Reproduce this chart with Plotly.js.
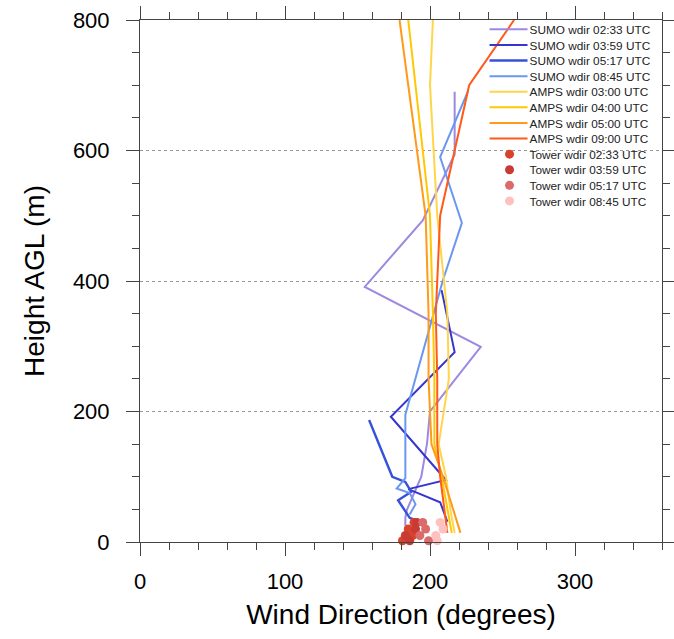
<!DOCTYPE html>
<html><head><meta charset="utf-8">
<script src="https://cdn.plot.ly/plotly-3.0.1.min.js"></script>
<style>body{margin:0;background:#fff}#chart{width:674px;height:639px}</style>
</head><body><div id="chart"></div>
<script>
// SUMO profiles (height m, wind direction deg)
const sumo0233_h = [690, 594, 493, 391, 299, 200, 152, 100, 49, 37, 25];
const sumo0233_d = [217, 217, 195, 155, 235, 200, 198, 194, 184, 183, 183];
const sumo0359_h = [386, 291, 192, 95, 81, 61, 31];
const sumo0359_d = [208, 217, 173, 211, 185, 207, 212];
const sumo0517_h = [187, 100, 92, 77, 64, 37, 31];
const sumo0517_d = [158, 174, 183, 187, 178, 186, 193];
const sumo0845_h = [690, 590, 489, 402, 195, 98, 82, 75, 58, 42];
const sumo0845_d = [226, 207, 222, 209, 183, 183, 177, 186, 190, 186];
// AMPS model profiles
const amps_h   = [14, 50, 100, 150, 250, 350, 500, 700, 800];
const amps0300 = [217, 214, 211, 206, 213, 212, 205, 200, 202];
const amps0400 = [215, 212, 208, 203, 203, 202, 200, 190, 185];
const amps0500 = [221, 216, 209, 201, 199, 199, 197, 185, 179];
const amps0900 = [212, 210, 207, 205, 205, 204, 207, 227, 258];
// Tower observations
const tower_h    = [2, 10, 20, 30];
const tower0233  = [181, 188, 185, 189];
const tower0359  = [186, 183, 190, 191];
const tower0517  = [199, 193, 197, 195];
const tower0845  = [205, 204, 209, 207];

const names = {
  s: ['SUMO wdir 02:33 UTC','SUMO wdir 03:59 UTC','SUMO wdir 05:17 UTC','SUMO wdir 08:45 UTC'],
  a: ['AMPS wdir 03:00 UTC','AMPS wdir 04:00 UTC','AMPS wdir 05:00 UTC','AMPS wdir 09:00 UTC'],
  t: ['Tower wdir 02:33 UTC','Tower wdir 03:59 UTC','Tower wdir 05:17 UTC','Tower wdir 08:45 UTC']
};
const sumoCol = ['#9d88e2','#3535cf','#3652da','#6a98f0'];
const ampsCol = ['#ffd54a','#ffc800','#ff9a1a','#ff5a1a'];
const towerCol = ['#d8432b','#c83a34','#db6b6b','#ffc0c0'];

const sumoH = [sumo0233_h, sumo0359_h, sumo0517_h, sumo0845_h];
const sumoD = [sumo0233_d, sumo0359_d, sumo0517_d, sumo0845_d];
const ampsD = [amps0300, amps0400, amps0500, amps0900];
const towerD = [tower0233, tower0359, tower0517, tower0845];

const traces = [];
for (let i = 0; i < 4; i++) traces.push({
  x: sumoD[i], y: sumoH[i], type: 'scatter', mode: 'lines', name: names.s[i],
  line: {color: sumoCol[i], width: i === 2 ? 2.4 : 2}
});
for (let i = 0; i < 4; i++) traces.push({
  x: ampsD[i], y: amps_h, type: 'scatter', mode: 'lines', name: names.a[i],
  line: {color: ampsCol[i], width: 2}
});
for (let i = 0; i < 4; i++) traces.push({
  x: towerD[i], y: tower_h, type: 'scatter', mode: 'markers', name: names.t[i],
  marker: {color: towerCol[i], size: 9}, cliponaxis: false
});

const fontFam = 'Liberation Sans, Arial, Helvetica, sans-serif';
const layout = {
  width: 674, height: 639,
  margin: {l: 140, r: 12, t: 20, b: 97},
  paper_bgcolor: '#fff', plot_bgcolor: '#fff',
  font: {family: fontFam, color: '#000'},
  showlegend: true,
  legend: {x: 0.6696, y: 1.0099, xanchor: 'left', yanchor: 'top', bgcolor: 'rgba(0,0,0,0)',
           font: {size: 11.8, family: fontFam, color: '#222'}, borderwidth: 0},
  xaxis: {range: [0, 360], tickvals: [0, 100, 200, 300], ticks: 'outside', ticklen: 13,
          tickcolor: '#444', linecolor: '#444', linewidth: 1, showline: true, mirror: 'ticks',
          showgrid: false, zeroline: false, tickfont: {size: 22}, ticklabelstandoff: 7,
          minor: {dtick: 20, tick0: 0, ticks: 'outside', ticklen: 7, tickcolor: '#444', showgrid: false},
          title: {text: 'Wind Direction (degrees)', font: {size: 28}, standoff: 10}},
  yaxis: {range: [0, 800], tickvals: [0, 200, 400, 600, 800], ticks: 'outside', ticklen: 13,
          tickcolor: '#444', linecolor: '#444', linewidth: 1, showline: true, mirror: 'ticks',
          showgrid: true, gridcolor: '#999', griddash: 'dot', gridwidth: 1, zeroline: false,
          tickfont: {size: 22}, ticklabelstandoff: 12,
          minor: {dtick: 50, tick0: 0, ticks: 'outside', ticklen: 7, tickcolor: '#444', showgrid: false},
          title: {text: 'Height AGL (m)', font: {size: 28}, standoff: 20}}
};
Plotly.newPlot('chart', traces, layout, {displayModeBar: false, staticPlot: true}).then(function (gd) {
  // tighten legend row spacing to match the reference (~15.6 px per entry)
  const items = gd.querySelectorAll('.legend .traces');
  let x0 = 0, y0 = 0;
  items.forEach(function (el, i) {
    const m = /translate\(\s*([-\d.]+)[ ,]+([-\d.]+)\s*\)/.exec(el.getAttribute('transform') || '');
    if (!m) return;
    if (i === 0) { x0 = parseFloat(m[1]); y0 = parseFloat(m[2]); }
    el.setAttribute('transform', 'translate(' + x0 + ',' + (y0 + i * 15.6) + ')');
    el.querySelectorAll('path.js-line').forEach(function (p) { p.setAttribute('d', 'M-1,0h39'); });
  });
});
</script></body></html>
